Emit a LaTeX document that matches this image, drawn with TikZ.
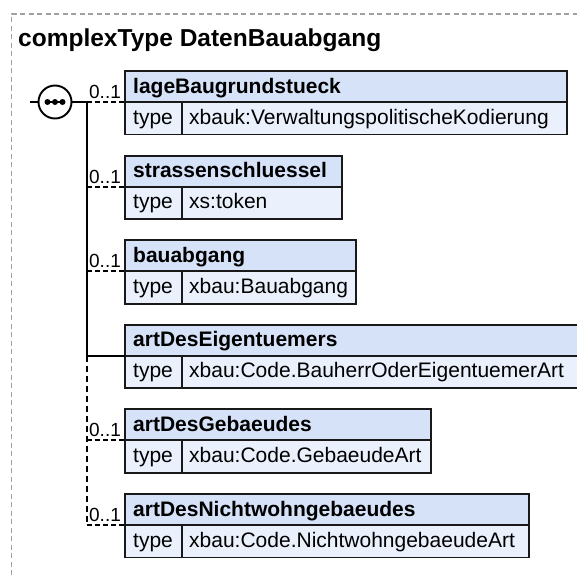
\documentclass[tikz,border=0pt]{standalone}
\usepackage{fontspec}
\setmainfont{Liberation Sans}
\definecolor{hdrfill}{RGB}{214,226,248}
\definecolor{rowfill}{RGB}{234,241,253}
\definecolor{framegray}{RGB}{160,160,160}
\newcommand\elembox[5]{%
  \node[hdrbox, minimum width=#3pt-125pt] (#1h) at (125,#2) {};
  \node[rowbox, minimum width=57pt] (#1k) at (125,#2+31) {};
  \node[rowbox, minimum width=#3pt-182pt] (#1v) at (182,#2+31) {};
  \node[hdrtext] (#1t) at (133,#2+22) {#4};
  \node[rowtext] (#1kt) at (133,#2+53) {type};
  \node[rowtext] (#1vt) at (189,#2+53) {#5};
}
\begin{document}
\begin{tikzpicture}[x=1pt,y=-1pt,
  hdrbox/.style={draw=black!90, line width=1.9pt, fill=hdrfill, minimum height=31pt, anchor=north west, inner sep=0pt, outer sep=0pt},
  rowbox/.style={draw=black!90, line width=1.9pt, fill=rowfill, minimum height=32.5pt, anchor=north west, inner sep=0pt, outer sep=0pt},
  hdrtext/.style={anchor=base west, inner sep=0pt, font=\bfseries\fontsize{21}{24}\selectfont},
  rowtext/.style={anchor=base west, inner sep=0pt, font=\fontsize{21}{24}\selectfont},
  cardtext/.style={anchor=base, inner sep=0pt, font=\fontsize{19}{22}\selectfont},
  conn/.style={line width=1.9pt, black},
  optconn/.style={line width=1.9pt, black, dash pattern=on 5pt off 3pt},
  opttrunk/.style={line width=1.9pt, black, dash pattern=on 6pt off 4pt},
  frame/.style={line width=1.2pt, framegray, dash pattern=on 5pt off 3.5pt}
]
\useasboundingbox (0,0) rectangle (577,575);
% outer frame
\draw[frame] (11.5,575) -- (11.5,14) -- (577,14);
\node[anchor=base west, inner sep=0pt, font=\bfseries\fontsize{24.5}{28}\selectfont] (title) at (18,46.5) {complexType DatenBauabgang};

% element boxes
\elembox{a}{71}{567}{lageBaugrundstueck}{xbauk:VerwaltungspolitischeKodierung}
\elembox{b}{155.6}{342}{strassenschluessel}{xs:token}
\elembox{c}{240.2}{356}{bauabgang}{xbau:Bauabgang}
\elembox{d}{324.8}{579}{artDesEigentuemers}{xbau:Code.BauherrOderEigentuemerArt}
\elembox{e}{409.4}{431}{artDesGebaeudes}{xbau:Code.GebaeudeArt}
\elembox{f}{494}{529}{artDesNichtwohngebaeudes}{xbau:Code.NichtwohngebaeudeArt}

% sequence compositor
\node[circle, draw=black, line width=1.9pt, fill=white, minimum size=33pt, inner sep=0pt] (seq) at (55,102) {};
\coordinate (seqin) at (30,102);
\draw[conn] (seqin) -- (seq.west);
\draw[conn] (seq.center) ++(-10,0) coordinate (dl) -- ++(20,0) coordinate (dr);
\fill (47.5,102) circle (3pt) (55,102) circle (3pt) (62.5,102) circle (3pt);

% trunk coordinates
\coordinate (ta) at (87,102);
\coordinate (tb) at (87,186.6);
\coordinate (tc) at (87,271.2);
\coordinate (td) at (87,355.8);
\coordinate (te) at (87,440.4);
\coordinate (tf) at (87,525);
\draw[conn] (seq.east) -- (ta);
\draw[conn] (ta) -- (td);
\draw[opttrunk] (td) -- (tf);

% connectors
\draw[optconn] (ta) -- (ah.south west);
\draw[optconn] (tb) -- (bh.south west);
\draw[optconn] (tc) -- (ch.south west);
\draw[conn] (td) -- (dh.south west);
\draw[optconn] (te) -- (eh.south west);
\draw[optconn] (tf) -- (fh.south west);

% cardinalities
\node[cardtext] (ca) at (105,98.5) {0..1};
\node[cardtext] (cb) at (105,183.1) {0..1};
\node[cardtext] (cc) at (105,267.7) {0..1};
\node[cardtext] (ce) at (105,436.9) {0..1};
\node[cardtext] (cf) at (105,521.5) {0..1};
\end{tikzpicture}
\end{document}
